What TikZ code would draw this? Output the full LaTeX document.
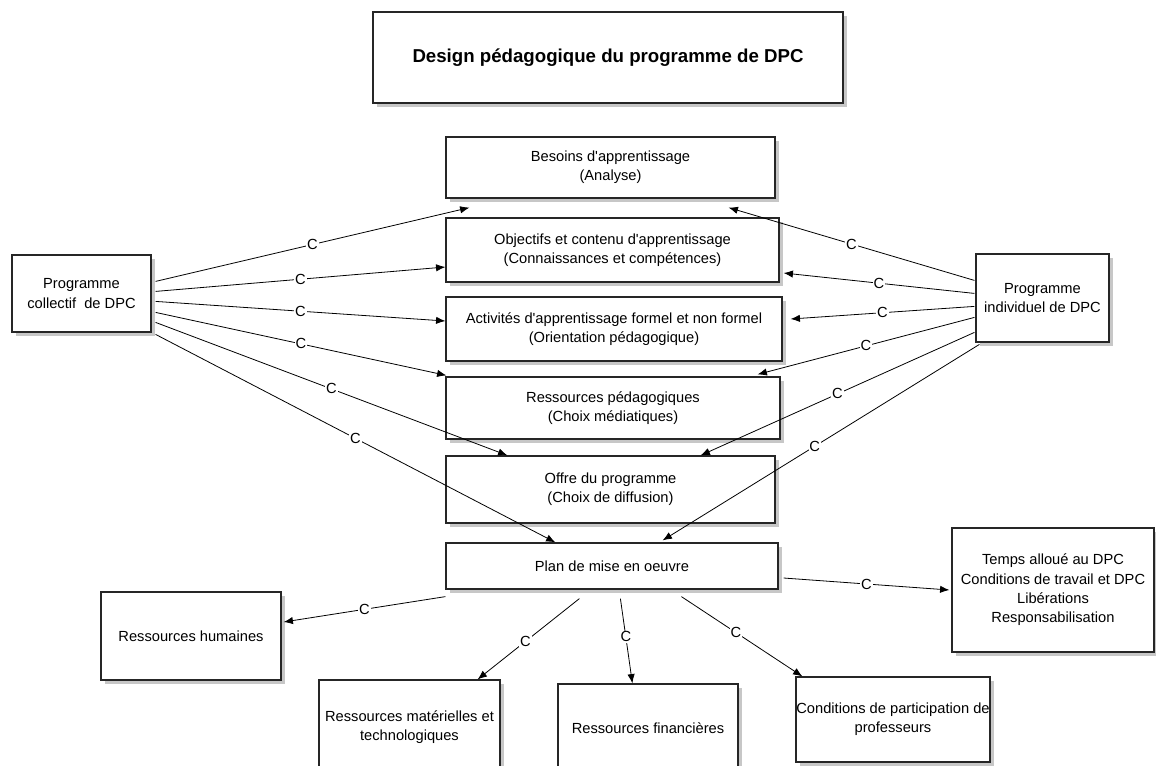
\documentclass[tikz,border=0pt]{standalone}
\usepackage{fontspec}
\setmainfont{Liberation Sans}[Ligatures=TeXOff]
\usetikzlibrary{calc, shadows, arrows.meta}

\begin{document}
\begin{tikzpicture}[
      x=0.75pt, y=-0.75pt,
      every node/.style={inner sep=2pt},
      wh/.style 2 args={minimum width=#1*0.75pt, minimum height=#2*0.75pt},
      box/.style={draw=black!85, line width=0.9pt, fill=white, align=center,
        font=\fontsize{11}{14.5}\selectfont,
        drop shadow={shadow xshift=3pt, shadow yshift=-3pt, fill=black!22, opacity=1}},
      link/.style={-{Latex[length=7pt,width=5.5pt]}, line width=0.6pt},
      lab/.style={fill=white, inner sep=0.6pt, font=\fontsize{11}{13}\selectfont}
    ]
      \useasboundingbox (0,0) rectangle (1156,765);
      \clip (0,0) rectangle (1156,765);

      % boxes
      \node[box, wh={470}{91}, font=\bfseries\fontsize{14}{17}\selectfont] (title) at (608,57.5)
          {Design pédagogique du programme de DPC};
      \node[box, wh={329}{61}] (besoins) at (610.5,167.5) {Besoins d'apprentissage\\(Analyse)};
      \node[box, wh={333}{64}] (objectifs) at (612.5,250) {Objectifs et contenu d'apprentissage\\(Connaissances et compétences)};
      \node[box, wh={336}{64}] (activites) at (614,329) {Activités d'apprentissage formel et non formel\\(Orientation pédagogique)};
      \node[box, wh={334}{62}] (ressped) at (613,408) {Ressources pédagogiques\\(Choix médiatiques)};
      \node[box, wh={329}{67}] (offre) at (610.5,489.5) {Offre du programme\\(Choix de diffusion)};
      \node[box, wh={332}{46}] (plan) at (612,566) {Plan de mise en oeuvre};
      \node[box, wh={139}{77}] (collectif) at (81.5,293.5) {Programme\\collectif~ de DPC};
      \node[box, wh={133}{88}] (individuel) at (1042.5,298) {Programme\\individuel de DPC};
      \node[box, wh={202}{124}] (temps) at (1053,590)
          {Temps alloué au DPC\\Conditions de travail et DPC\\Libérations\\Responsabilisation};
      \node[box, wh={180}{88}] (humaines) at (191,636) {Ressources humaines};
      \node[box, wh={181}{94}, inner sep=0pt] (materielles) at (409.5,727) {Ressources matérielles et\\technologiques};
      \node[box, wh={180}{88}] (financieres) at (648,728) {Ressources financières};
      \node[box, wh={194}{85}, inner sep=0pt] (conditions) at (893,719.5) {Conditions de participation de\\professeurs};

      % collectif
      \draw[link] ($(collectif.north east)+(4,27)$) -- ($(besoins.south west)+(24,9)$) node[lab, midway] {C};
      \draw[link] ($(collectif.north east)+(4,37)$) -- ($(objectifs.west)+(0,17)$) node[lab, midway] {C};
      \draw[link] ($(collectif.north east)+(4,47)$) -- ($(activites.west)+(0,-8)$) node[lab, midway] {C};
      \draw[link] ($(collectif.north east)+(4,58)$) -- ($(ressped.north west)+(1,-1)$) node[lab, midway] {C};
      \draw[link] ($(collectif.north east)+(4,68)$) -- ($(offre.north west)+(62,0)$) node[lab, midway] {C};
      \draw[link] ($(collectif.north east)+(4,80)$) -- ($(plan.north west)+(110,0)$) node[lab, midway] {C};

      % individuel
      \draw[link] ($(individuel.north west)+(-1,27)$) -- ($(besoins.south east)+(-47,9)$) node[lab, midway] {C};
      \draw[link] ($(individuel.north west)+(-1,40)$) -- ($(objectifs.east)+(4,23)$) node[lab, midway] {C};
      \draw[link] ($(individuel.north west)+(-1,53)$) -- ($(activites.east)+(8,-10)$) node[lab, midway] {C};
      \draw[link] ($(individuel.north west)+(-1,64)$) -- ($(ressped.north east)+(-23,-2)$) node[lab, midway] {C};
      \draw[link] ($(individuel.north west)+(-1,79)$) -- ($(offre.north east)+(-75,0)$) node[lab, midway] {C};
      \draw[link] ($(individuel.north west)+(4,91)$) -- ($(plan.north east)+(-116,-2)$) node[lab, pos=0.52] {C};

      % plan de mise en oeuvre
      \draw[link] ($(plan.south west)+(0,7)$) -- ($(humaines.east)+(2,-14)$) node[lab, midway] {C};
      \draw[link] ($(plan.south west)+(134,9)$) -- ($(materielles.north east)+(-23,0)$) node[lab, pos=0.53] {C};
      \draw[link] ($(plan.south west)+(175,9)$) -- ($(financieres.north west)+(75,0)$) node[lab, pos=0.45] {C};
      \draw[link] ($(plan.south west)+(236,7)$) -- ($(conditions.north west)+(7,0)$) node[lab, pos=0.45] {C};
      \draw[link] ($(plan.east)+(5,12)$) -- ($(temps.west)+(-2,0)$) node[lab, midway] {C};
\end{tikzpicture}
\end{document}
